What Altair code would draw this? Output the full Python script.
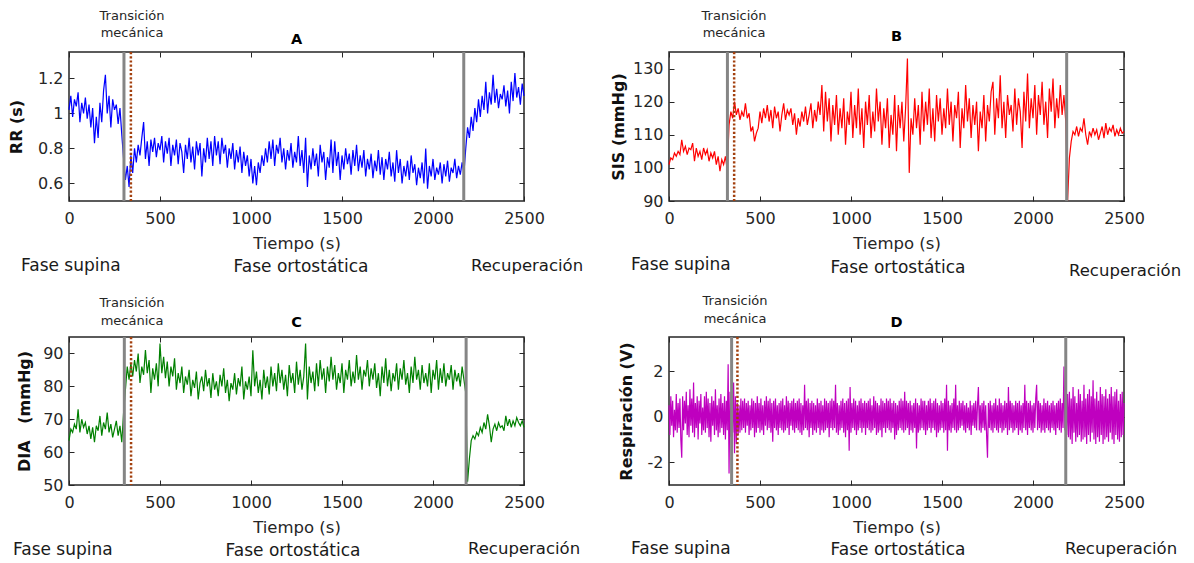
import altair as alt
import pandas as pd
import numpy as np

FONT = "DejaVu Sans"
TICK_X = [0, 500, 1000, 1500, 2000, 2500]

# RR intervals (s), one value every 10 s
RR = [
    1.02, 1.10, 0.98, 1.08, 1.04, 1.12, 0.95, 1.06, 1.00, 1.09,
    0.97, 1.05, 0.92, 1.03, 0.83, 0.98, 0.86, 1.06, 0.95, 1.13,
    1.22, 1.00, 1.10, 0.92, 1.08, 1.02, 1.05, 0.94, 1.03, 0.88,
    0.74, 0.62, 0.70, 0.58, 0.76, 0.66, 0.80, 0.72, 0.82, 0.76,
    0.86, 0.95, 0.74, 0.84, 0.70, 0.85, 0.78, 0.86, 0.75, 0.83,
    0.79, 0.87, 0.72, 0.84, 0.77, 0.86, 0.70, 0.82, 0.76, 0.85,
    0.71, 0.83, 0.78, 0.66, 0.82, 0.74, 0.86, 0.72, 0.81, 0.68,
    0.84, 0.76, 0.83, 0.64, 0.80, 0.72, 0.86, 0.74, 0.84, 0.70,
    0.87, 0.76, 0.84, 0.71, 0.86, 0.77, 0.82, 0.69, 0.80, 0.74,
    0.83, 0.68, 0.79, 0.72, 0.81, 0.66, 0.78, 0.70, 0.76, 0.64,
    0.74, 0.60, 0.70, 0.59, 0.72, 0.66, 0.76, 0.70, 0.80, 0.72,
    0.84, 0.74, 0.85, 0.70, 0.82, 0.77, 0.86, 0.72, 0.80, 0.68,
    0.79, 0.73, 0.83, 0.69, 0.78, 0.72, 0.87, 0.70, 0.79, 0.66,
    0.86, 0.58, 0.76, 0.68, 0.80, 0.70, 0.77, 0.64, 0.82, 0.72,
    0.78, 0.62, 0.75, 0.69, 0.85, 0.66, 0.84, 0.70, 0.78, 0.62,
    0.76, 0.68, 0.80, 0.71, 0.77, 0.65, 0.79, 0.70, 0.82, 0.67,
    0.76, 0.69, 0.79, 0.64, 0.74, 0.68, 0.77, 0.63, 0.73, 0.67,
    0.79, 0.65, 0.75, 0.62, 0.74, 0.68, 0.78, 0.64, 0.72, 0.61,
    0.79, 0.66, 0.74, 0.60, 0.70, 0.64, 0.73, 0.62, 0.76, 0.66,
    0.71, 0.59, 0.69, 0.63, 0.72, 0.60, 0.80, 0.57, 0.70, 0.64,
    0.74, 0.62, 0.69, 0.65, 0.72, 0.60, 0.71, 0.64, 0.73, 0.61,
    0.69, 0.66, 0.74, 0.63, 0.70, 0.65, 0.72, 0.66, 0.80, 0.92,
    0.86, 0.98, 0.90, 1.03, 0.95, 1.08, 0.98, 1.10, 1.02, 1.18,
    1.00, 1.12, 1.05, 1.22, 1.06, 1.14, 1.03, 1.11, 1.08, 1.16,
    1.04, 1.13, 1.00, 1.18, 1.07, 1.23, 1.09, 1.15, 1.05, 1.17,
    1.10,
]

# Systolic pressure (mmHg), one value every 10 s
SIS = [
    101, 103, 102.5, 104.5, 103.5, 105, 104, 108.5, 105, 106.5,
    104, 106, 105.5, 107.5, 102, 106, 103.5, 105, 102.5, 106,
    104, 105.5, 102, 104.5, 103, 105, 101, 103.5, 99, 102.5,
    101, 103.5, 99.5, 113, 117, 115, 120, 116, 118, 114.5,
    117, 115.5, 119.5, 115, 116.5, 111, 112.5, 108, 110.5, 112,
    117, 113.5, 118, 115, 119, 114, 117.5, 112, 118.5, 115,
    117, 111, 116, 119.5, 114.5, 117.5, 116, 118, 113, 116.5,
    110, 115, 112.5, 117, 114, 118.5, 113, 116, 119.5, 112,
    117.5, 114, 120, 116, 125, 111, 123, 114, 121, 108,
    119, 113, 122, 110, 118, 112, 121, 107, 117, 113,
    123, 109, 119, 112, 124, 110, 118, 106, 120, 113,
    122, 109, 117, 111, 124, 114, 120, 107, 118, 112,
    121, 106, 116, 110, 122, 105, 119, 112, 120, 108,
    118, 133, 98.5, 115, 110, 121, 112, 119, 107, 123,
    111, 120, 113, 124, 109, 118, 108, 122, 114, 121,
    110, 118, 112, 124, 113, 120, 108, 119, 115, 123,
    106, 118, 112, 125, 114, 121, 109, 119, 113, 120,
    105, 117, 112, 122, 108, 119, 114, 123, 126, 110,
    121, 115, 128, 112, 120, 109, 122, 116, 119, 111,
    124, 113, 121, 117, 106, 123, 114, 128.5, 112, 121,
    115, 125, 110, 122, 116, 126, 113, 120, 109, 124,
    117, 127, 112, 121, 115, 125, 116, 122, 114, 90,
    103, 108, 111, 110, 112.5, 109.5, 112, 111, 115, 110,
    107, 111, 109.5, 112, 110, 111.5, 108.5, 110.5, 112.5, 109,
    113.5, 110, 112, 111, 113, 109.5, 111.5, 110, 112, 110.5,
    111,
]

# Diastolic pressure (mmHg), one value every 10 s
DIA = [
    63.5, 67, 66, 68.5, 67, 73, 66, 70, 67.5, 69,
    65.5, 68, 64, 67.5, 63, 68, 66.5, 71, 65, 69,
    67, 72, 66, 68.5, 64.5, 67, 69.5, 65, 68, 63,
    72, 79, 86, 82, 87, 83, 88, 84.5, 90, 81,
    86, 83.5, 91, 84, 88, 78, 85.5, 82, 87, 80,
    93, 84, 89, 82.5, 87.5, 80, 86, 83, 88.5, 79,
    84, 81, 86, 78, 83, 80.5, 85, 77, 82, 79.5,
    84.5, 76, 81, 83, 78.5, 85, 80, 82.5, 76.5, 84,
    79, 81.5, 77, 83.5, 80, 85.5, 78, 82, 75.5, 81,
    79, 84, 77.5, 82.5, 80, 86, 76, 81.5, 79, 83,
    77, 91, 80, 84.5, 78, 82, 76, 85, 79.5, 83,
    77.5, 86, 80, 84, 78.5, 87, 81, 85, 79, 83.5,
    77, 86.5, 81, 84, 78, 87.5, 80.5, 85, 79, 83,
    93, 76, 86, 81, 84.5, 78.5, 87, 80, 88, 82,
    85.5, 78, 86, 81.5, 89, 82, 86.5, 79, 84, 81,
    87, 78, 85, 82, 88, 80, 84.5, 81, 89.5, 82,
    86, 79, 85, 83, 88, 80, 85.5, 82, 87, 79.5,
    84, 77, 86, 81, 88.5, 80, 85, 78.5, 84, 81.5,
    87, 79, 85.5, 82, 88, 80.5, 84, 78, 86, 81,
    89, 82, 85, 79, 86.5, 81, 84, 80, 87, 78,
    85, 82, 88, 79, 85.5, 81, 87, 80, 84, 82,
    86.5, 79, 85, 81.5, 84, 80, 86, 82, 78, 51,
    58, 63.5, 65, 64, 66, 65, 67.5, 66, 69, 67,
    71.5, 68, 63, 67, 68.5, 66.5, 69, 67.5, 68, 66.5,
    71, 68, 70, 67.5, 69.5, 68, 70.5, 69, 68, 69.5,
    67.5,
]

# Respiration (V), one value every 5 s
RESP = [
    0.5, -0.8, 0.9, -0.4, 0.7, -0.9, 0.3, -0.6, 1.0, -0.7, 0.6, -0.5, 0.8, -1.0, -1.8, 0.9, -0.6, 0.7, -0.3, 1.1,
    -0.8, 0.5, -0.9, 1.2, -0.4, 0.8, -0.7, 1.5, -0.9, 0.6, -0.5, 0.9, -1.0, 0.7, -0.3, 1.0, -0.8, 0.4, -0.6, 0.9,
    -0.7, 1.1, -0.5, 0.8, -0.9, 0.6, -1.1, 0.9, -0.4, 0.7, -0.8, 1.2, -0.6, 0.5, -0.9, 0.8, -0.7, 1.0, -0.5, 0.6,
    -0.8, 0.9, -1.0, 0.7, -0.6, 2.3, -2.5, 1.1, -0.9, 0.8, -0.7, 1.5, -1.6, 0.9, -1.2, 0.6, -0.8, 0.5, -0.7, 0.8,
    -0.6, 0.7, -0.5, 0.8, -0.7, 0.6, -0.4, 0.7, -0.8, 0.5, -0.6, 0.8, -0.5, 0.7, -0.9, 0.6, -0.7, 0.9, -0.5, 0.6,
    -0.7, 0.8, -0.6, 0.5, -0.8, 0.7, -0.4, 0.9, -0.6, 0.7, -0.5, 0.8, -0.7, 0.6, -1.1, 0.7, -0.5, 0.8, -0.6, 0.5,
    -0.8, 0.6, -0.5, 0.7, -0.6, 0.8, -0.7, 0.5, -0.6, 0.9, -0.5, 0.7, -0.8, 0.6, -0.4, 0.7, -0.6, 0.8, -0.7, 0.6,
    -0.5, 0.7, -0.6, 0.8, -0.7, 0.6, -0.8, 0.5, -0.6, 1.4, -0.5, 0.7, -0.6, 0.8, -0.9, 0.6, -0.5, 0.7, -0.8, 0.6,
    -0.6, 0.5, -0.7, 0.8, -0.5, 0.6, -0.8, 0.7, -0.6, 0.5, -0.7, 0.8, -0.6, 0.7, -0.5, 0.6, -0.9, 0.7, -0.5, 0.8,
    -0.6, 0.7, -0.5, 1.4, -0.7, 0.6, -0.8, 0.5, -0.6, 0.7, -0.5, 0.8, -0.7, 0.6, -0.9, 0.7, -0.6, 0.8, -1.5, 1.3,
    -0.7, 0.6, -0.5, 0.8, -0.6, 0.7, -0.8, 0.5, -0.6, 0.7, -0.5, 0.8, -0.7, 0.6, -0.5, 0.7, -0.8, 0.6, -0.5, 0.7,
    -0.6, 0.8, -0.7, 0.5, -0.6, 0.9, -0.5, 0.7, -0.8, 0.6, -0.7, 0.5, -0.6, 0.8, -0.9, 0.7, -0.5, 0.6, -0.7, 0.8,
    -0.5, 0.7, -0.6, 0.8, -0.7, 0.6, -0.5, 0.7, -1.0, 0.6, -0.8, 0.5, -0.6, 0.7, -0.5, 0.8, -0.6, 0.7, -0.7, 1.1,
    -0.6, 0.7, -0.5, 0.6, -0.8, 0.7, -0.6, 0.5, -0.7, 0.6, -0.5, 0.8, -1.4, 0.6, -0.7, 0.5, -0.6, 0.8, -0.5, 0.7,
    -0.6, 0.7, -0.8, 0.5, -0.6, 0.7, -0.5, 0.8, -0.7, 0.6, -0.5, 0.7, -0.6, 0.8, -0.9, 0.6, -0.7, 0.5, -0.6, 0.7,
    -0.5, 0.6, -0.7, 0.8, -0.6, 1.4, -1.5, 0.7, -0.6, 0.5, -0.7, 0.6, -0.5, 0.8, -0.6, 1.4, -0.7, 0.5, -0.6, 0.7,
    -0.5, 0.6, -0.4, 0.7, -0.6, 0.5, -0.7, 0.6, -0.5, 0.4, -0.6, 0.7, -0.8, 0.5, -0.4, 0.6, -0.5, 0.7, -0.6, 0.5,
    1.3, -0.6, 0.5, -0.7, 0.6, -0.5, 0.7, -0.6, 0.5, -0.8, -1.8, 0.6, -0.5, 0.7, -0.6, 0.5, -0.7, 0.6, -0.5, 0.8,
    -0.6, 0.5, -0.7, 0.8, -0.5, 0.6, -0.7, 0.5, -0.6, 0.7, -0.5, 0.6, -0.8, 1.3, -0.6, 0.7, -0.5, 0.6, -0.7, 0.5,
    -0.6, 0.7, -0.5, 0.6, -0.8, 0.7, -0.6, 0.5, -0.7, 0.6, -0.5, 1.4, -0.6, 0.7, -0.8, 0.6, -0.5, 0.7, -0.6, 0.5,
    -0.7, 0.6, -0.5, 0.8, 1.4, -0.6, 0.7, -0.5, 0.6, -0.7, 0.5, -0.6, 0.8, -0.7, 0.6, -0.5, 0.7, -0.6, 0.5, -0.7,
    0.6, -0.5, 0.7, -0.6, 0.5, -0.8, 0.6, -0.5, 0.7, -0.6, 0.8, -0.7, 0.6, -0.5, 2.2, -0.6, 0.7, -0.8, 1.0, -0.9,
    1.1, -1.0, 0.8, -1.2, 1.3, -0.7, 0.9, -1.1, 0.6, -0.9, 1.2, -0.8, 1.0, -1.1, 0.7, -1.0, 1.4, -0.9, 0.8, -1.2,
    1.0, -0.8, 1.2, -1.1, 0.9, -0.7, 1.6, -1.0, 0.8, -1.2, 1.1, -0.9, 0.7, -1.1, 1.3, -0.8, 1.0, -1.2, 0.9, -1.0,
    1.2, -0.9, 0.8, -1.1, 1.0, -0.7, 1.3, -1.0, 0.9, -1.2, 1.1, -0.8, 1.2, -1.0, 0.7, -1.1, 1.0, -0.9, 1.1, -0.8,
    0.6,
]

# Event times (s)
GRAY_A = [302, 2169]
DOT_A = [340]
GRAY_B = [321, 2185]
DOT_B = [358]
GRAY_C = [304, 2182]
DOT_C = [341]
GRAY_D = [344, 2180]
DOT_D = [376]

YTICKS_A = [0.6, 0.8, 1, 1.2]
YTICKS_B = [90, 100, 110, 120, 130]
YTICKS_C = [50, 60, 70, 80, 90]
YTICKS_D = [-2, 0, 2]

W = 455
H1 = 149
H2 = 148
TXT = "#262626"


def text_layer(text, x, y, size, align="center", weight="normal", color="#1a1a1a"):
    return alt.Chart(alt.Data(values=[{"k": 1}])).mark_text(
        text=text, align=align, baseline="middle", font=FONT,
        fontSize=size, fontWeight=weight, color=color,
    ).encode(x=alt.value(x), y=alt.value(y))


def panel(vals, color, letter, ytitle, ydom, yticks, gray_t, dot_t, h, ann, ytp):
    t = np.linspace(0, 2500, len(vals))
    df = pd.DataFrame({"t": t, "v": vals})
    xs = alt.Scale(domain=[0, 2500], nice=False, zero=False)
    ys = alt.Scale(domain=ydom, nice=False, zero=False)
    common = dict(offset=-5, tickSize=5, domain=False, grid=False,
                  tickColor=TXT, tickWidth=1)
    x_axis = alt.Axis(orient="bottom", values=TICK_X, labelExpr="toString(datum.value)",
                      labelFont=FONT, labelFontSize=16, labelColor=TXT, labelPadding=9,
                      labelFlush=False, labelOverlap=False,
                      title="Tiempo (s)", titleFont=FONT, titleFontSize=16.5,
                      titleFontWeight="normal", titleColor=TXT, titlePadding=9, **common)
    y_axis = alt.Axis(orient="left", values=yticks, labelExpr="toString(datum.value)",
                      labelFont=FONT, labelFontSize=16, labelColor=TXT, labelPadding=6,
                      labelFlush=False, labelOverlap=False,
                      title=ytitle, titleFont=FONT, titleFontSize=16,
                      titleFontWeight="bold", titleColor="#111111", titlePadding=ytp, **common)
    line = alt.Chart(df).mark_line(color=color, strokeWidth=1.2).encode(
        x=alt.X("t:Q", scale=xs, axis=x_axis),
        y=alt.Y("v:Q", scale=ys, axis=y_axis),
    )
    mirror = alt.Chart(df).mark_line(strokeOpacity=0).encode(
        x=alt.X("t:Q", scale=xs, axis=alt.Axis(orient="top", values=TICK_X, labels=False,
                                               title=None, **common)),
        y=alt.Y("v:Q", scale=ys, axis=alt.Axis(orient="right", values=yticks, labels=False,
                                               title=None, **common)),
    )
    gray = alt.Chart(pd.DataFrame({"t": gray_t})).mark_rule(color="#858585", strokeWidth=3).encode(
        x=alt.X("t:Q", scale=xs, axis=None))
    dot = alt.Chart(pd.DataFrame({"t": dot_t})).mark_rule(
        color="#A3400E", strokeWidth=2.5, strokeDash=[2.2, 2]).encode(
        x=alt.X("t:Q", scale=xs, axis=None))
    texts = [
        text_layer("Transición", ann["tx"], ann["ty1"], 13, color=TXT),
        text_layer("mecánica", ann["tx"], ann["ty2"], 13, color=TXT),
        text_layer(letter, W / 2, ann["ly"], 14.5, weight="bold", color="#000000"),
        text_layer("Fase supina", ann["sx"], h + ann["sy"], 17, align="left"),
        text_layer("Fase ortostática", ann["ox"], h + ann["oy"], 17),
        text_layer("Recuperación", ann["rx"], h + ann["ry"], 16.5, align="left"),
    ]
    return alt.layer(line, mirror, gray, dot, *texts).resolve_axis(
        x="independent", y="independent").properties(width=W, height=h)


pA = panel(RR, "#0000FF", "A", "RR (s)", [0.5, 1.35], YTICKS_A, GRAY_A, DOT_A, H1,
           dict(tx=63, ty1=-36.5, ty2=-19.5, ly=-12, sx=-48, sy=64.5, ox=232, oy=65.5, rx=402, ry=64.5), 13)
pB = panel(SIS, "#FF0000", "B", "SIS (mmHg)", [90, 135], YTICKS_B, GRAY_B, DOT_B, H1,
           dict(tx=65, ty1=-36.5, ty2=-19.5, ly=-15, sx=-38, sy=63.5, ox=229, oy=66.5, rx=400, ry=69.5), 6)
pC = panel(DIA, "#008000", "C", "DIA\u00a0\u00a0\u00a0(mmHg)", [50, 95], YTICKS_C, GRAY_C, DOT_C, H2,
           dict(tx=63, ty1=-34, ty2=-16, ly=-14, sx=-56, sy=65, ox=224, oy=66, rx=399, ry=64), 10)
pD = panel(RESP, "#BF00BF", "D", "Respiración (V)", [-3, 3.5], YTICKS_D, GRAY_D, DOT_D, H2,
           dict(tx=66, ty1=-36, ty2=-18, ly=-14, sx=-38, sy=64, ox=229, oy=65, rx=396, ry=64), 13)

chart = alt.concat(
    pA, pB, pC, pD, columns=2, bounds="flush",
    spacing={"row": 136, "column": 145},
).properties(
    padding={"left": 7, "top": 8, "right": 5, "bottom": 5},
    background="#ffffff",
).configure_view(stroke=TXT, strokeWidth=1.5)

chart.save("out.html", embed_options={"renderer": "svg", "actions": False})
